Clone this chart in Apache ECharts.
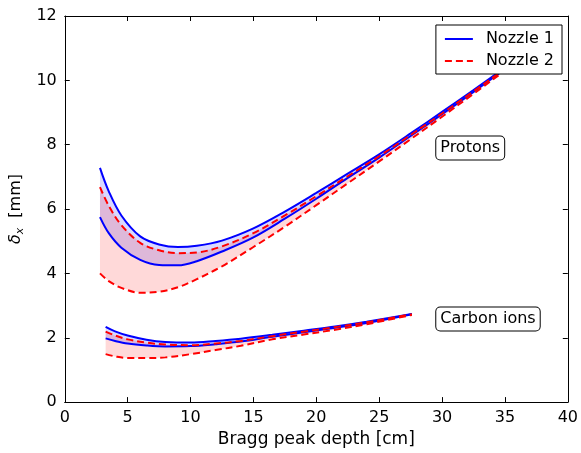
<!DOCTYPE html>
<html>
<head>
<meta charset="utf-8">
<script src="https://cdn.jsdelivr.net/npm/echarts@6/dist/echarts.min.js"></script>
<style>
  html, body { margin: 0; padding: 0; background: #fff; }
  #chart { width: 581px; height: 453px; }
</style>
</head>
<body>
<div id="chart"></div>
<script>
  // protons, depth in cm / width in mm
  const protonDepth = [2.8, 3.5, 4.5, 6, 7.5, 9, 10.5, 12.5, 15, 17.5, 20, 22.5, 25, 27.5, 30, 32.5, 35, 37];
  const protonN1Hi = [7.28, 6.55, 5.80, 5.15, 4.90, 4.82, 4.86, 5.02, 5.40, 5.92, 6.50, 7.10, 7.70, 8.35, 9.02, 9.70, 10.40, 10.98];
  const protonN1Lo = [5.75, 5.25, 4.80, 4.42, 4.26, 4.25, 4.38, 4.68, 5.12, 5.70, 6.32, 6.97, 7.60, 8.27, 8.95, 9.64, 10.35, 10.93];
  const protonN2Hi = [6.68, 6.10, 5.50, 4.95, 4.72, 4.63, 4.65, 4.84, 5.25, 5.80, 6.40, 7.02, 7.64, 8.30, 8.97, 9.66, 10.36, 10.94];
  const protonN2Lo = [4.00, 3.76, 3.55, 3.40, 3.43, 3.57, 3.82, 4.22, 4.82, 5.45, 6.12, 6.80, 7.48, 8.17, 8.87, 9.58, 10.30, 10.88];

  // carbon ions
  const carbonDepth = [3.25, 4, 5, 6.5, 8, 10, 12, 14, 16.5, 19, 21.5, 24, 27.6];
  const carbonN1Hi = [2.34, 2.20, 2.07, 1.94, 1.87, 1.85, 1.90, 1.97, 2.09, 2.22, 2.35, 2.50, 2.74];
  const carbonN1Lo = [1.98, 1.90, 1.82, 1.76, 1.73, 1.74, 1.80, 1.88, 2.03, 2.17, 2.31, 2.46, 2.73];
  const carbonN2Hi = [2.19, 2.07, 1.95, 1.85, 1.79, 1.77, 1.82, 1.90, 2.05, 2.19, 2.33, 2.48, 2.73];
  const carbonN2Lo = [1.49, 1.42, 1.37, 1.37, 1.39, 1.49, 1.62, 1.75, 1.95, 2.10, 2.25, 2.42, 2.71];

  const labels = [
    { text: 'Protons', x: 29.5, y: 7.9 },
    { text: 'Carbon ions', x: 29.5, y: 2.58 },
  ];

  const SMOOTH = 0.35;
  const font = 'DejaVu Sans';
  const blue = '#0000ff';
  const red = '#ff0000';

  function pairs(xs, ys) {
    return xs.map((x, i) => [x, ys[i]]);
  }

  // shaded band between two curves, drawn as one polygon through the axes
  function band(xs, lo, hi, fill) {
    return {
      type: 'custom', silent: true, z: 1,
      data: [0],
      renderItem: (params, api) => {
        const top = xs.map((x, i) => api.coord([x, hi[i]]));
        const bottom = xs.map((x, i) => api.coord([x, lo[i]])).reverse();
        return {
          type: 'polygon',
          shape: { points: top.concat(bottom) },
          style: { fill: fill, stroke: 'none' },
        };
      },
    };
  }

  function curve(name, xs, ys, color, dashed) {
    return {
      name: name, type: 'line', smooth: SMOOTH, symbol: 'none', silent: true,
      color: color, z: dashed ? 3 : 2,
      lineStyle: { color: color, width: 2, type: dashed ? [7, 4] : 'solid' },
      data: pairs(xs, ys),
    };
  }

  const series = [
    band(protonDepth, protonN1Lo, protonN1Hi, 'rgba(0,0,255,0.15)'),
    band(protonDepth, protonN2Lo, protonN2Hi, 'rgba(255,0,0,0.15)'),
    band(carbonDepth, carbonN1Lo, carbonN1Hi, 'rgba(0,0,255,0.15)'),
    band(carbonDepth, carbonN2Lo, carbonN2Hi, 'rgba(255,0,0,0.15)'),
    curve('Nozzle 1', protonDepth, protonN1Hi, blue, false),
    curve('Nozzle 1', protonDepth, protonN1Lo, blue, false),
    curve('Nozzle 1', carbonDepth, carbonN1Hi, blue, false),
    curve('Nozzle 1', carbonDepth, carbonN1Lo, blue, false),
    curve('Nozzle 2', protonDepth, protonN2Hi, red, true),
    curve('Nozzle 2', protonDepth, protonN2Lo, red, true),
    curve('Nozzle 2', carbonDepth, carbonN2Hi, red, true),
    curve('Nozzle 2', carbonDepth, carbonN2Lo, red, true),
    {
      type: 'scatter', silent: true, symbolSize: 1, z: 5,
      itemStyle: { color: 'transparent', opacity: 1 },
      data: labels.map((l) => [l.x, l.y, l.text]),
      label: {
        show: true, position: 'right', distance: 0,
        formatter: (p) => p.data[2],
        fontFamily: font, fontSize: 16, color: '#000',
        backgroundColor: '#fff', borderColor: '#000', borderWidth: 1, borderRadius: 4,
        padding: [4, 4, 3, 4],
      },
    },
  ];

  const axisLine = { show: true, onZero: false, lineStyle: { color: '#000', width: 1 } };
  const tick = { show: true, inside: true, length: 5, lineStyle: { color: '#000' } };
  const labelStyle = { fontFamily: font, fontSize: 16, color: '#000' };

  const chart = echarts.init(document.getElementById('chart'));
  chart.setOption({
    animation: false,
    backgroundColor: '#fff',
    grid: { left: 63, right: 11, top: 16, bottom: 46 },
    legend: {
      data: ['Nozzle 1', 'Nozzle 2'],
      orient: 'vertical',
      right: 19, top: 25, z: 10,
      backgroundColor: '#fff', borderColor: '#000', borderWidth: 1,
      padding: [6, 8, 5, 8],
      itemWidth: 28, itemHeight: 14, itemGap: 6,
      itemStyle: { opacity: 0 },
      textStyle: { fontFamily: font, fontSize: 16, color: '#000', padding: [0, 0, 0, 8] },
      selectedMode: false,
    },
    xAxis: [
      {
        type: 'value', min: 0, max: 40, interval: 5, position: 'bottom',
        name: 'Bragg peak depth [cm]', nameLocation: 'middle', nameGap: 26,
        nameTextStyle: { fontFamily: font, fontSize: 17, color: '#000' },
        axisLine: axisLine, axisTick: tick, splitLine: { show: false },
        axisLabel: { ...labelStyle, margin: 8 },
      },
      {
        type: 'value', min: 0, max: 40, interval: 5, position: 'top',
        axisLine: axisLine, axisTick: tick, splitLine: { show: false },
        axisLabel: { show: false },
      },
    ],
    yAxis: [
      {
        type: 'value', min: 0, max: 12, interval: 2, position: 'left',
        name: '{d|δ}{s|x}  [mm]', nameLocation: 'middle', nameGap: 33,
        nameTextStyle: {
          fontFamily: font, fontSize: 16, color: '#000',
          rich: {
            d: { fontFamily: font, fontSize: 16, fontStyle: 'italic', color: '#000' },
            s: { fontFamily: font, fontSize: 11, fontStyle: 'italic', color: '#000', padding: [8, 0, 0, 0] },
          },
        },
        axisLine: axisLine, axisTick: tick, splitLine: { show: false },
        axisLabel: { ...labelStyle, margin: 8 },
      },
      {
        type: 'value', min: 0, max: 12, interval: 2, position: 'right',
        axisLine: axisLine, axisTick: tick, splitLine: { show: false },
        axisLabel: { show: false },
      },
    ],
    series: series,
  });
</script>
</body>
</html>
